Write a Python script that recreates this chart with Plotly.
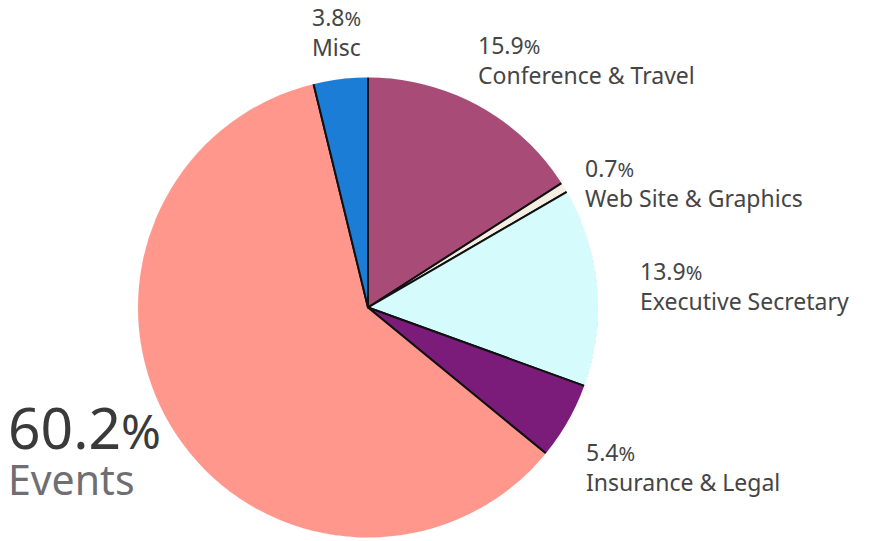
import plotly.graph_objects as go

# slices, clockwise from 12 o'clock
labels = ["Conference & Travel", "Web Site & Graphics", "Executive Secretary",
          "Insurance & Legal", "Events", "Misc"]
shares = [15.9, 0.7, 13.9, 5.4, 60.2, 3.8]
colors = ["#A84B77", "#F4EFE2", "#D6FBFD", "#7B1C7B", "#FF978D", "#1C7DD6"]

# label placement in pixels (top-left of text block)
label_pos = {
    "Conference & Travel": (476, 27),
    "Web Site & Graphics": (583, 150),
    "Executive Secretary": (638, 253),
    "Insurance & Legal": (584, 434),
    "Misc": (310, -1),
}

W, H = 869, 541
cx, cy, R = 368, 307.5, 231.5   # pie centre / radius in px
cyb = H - cy                    # centre measured from bottom

fig = go.Figure()
fig.add_trace(go.Pie(
    labels=labels,
    values=shares,
    sort=False,
    direction="clockwise",
    rotation=0,
    textinfo="none",
    hoverinfo="label+percent",
    marker=dict(colors=colors, line=dict(color="#111111", width=2)),
    domain=dict(x=[(cx - R) / W, (cx + R) / W], y=[(cyb - R) / H, (cyb + R) / H]),
    showlegend=False,
))

# white ring hiding the outline on the outer arc (reference has none)
Ro = 233.5
fig.add_trace(go.Pie(
    values=[1],
    labels=["mask"],
    hole=(R - 1.5) / Ro,
    sort=False,
    textinfo="none",
    hoverinfo="skip",
    marker=dict(colors=["white"], line=dict(width=0)),
    domain=dict(x=[(cx - Ro) / W, (cx + Ro) / W], y=[max(0, (cyb - Ro) / H), (cyb + Ro) / H]),
    showlegend=False,
))

annotations = []
for lab, val in zip(labels, shares):
    if lab == "Events":
        continue
    px_, py_ = label_pos[lab]
    annotations.append(dict(
        x=px_ / W, y=1 - py_ / H, xref="paper", yref="paper",
        xanchor="left", yanchor="top", align="left", showarrow=False,
        text=f"{val}<span style='font-size:20px'>%</span><br>{lab}",
        font=dict(family="Noto Sans", size=23, color="#454545"),
    ))

ev = labels.index("Events")
annotations.append(dict(
    x=6 / W, y=1 - 386 / H, xref="paper", yref="paper",
    xanchor="left", yanchor="top", align="left", showarrow=False,
    text=(f"<span style='font-size:57px'>{shares[ev]}</span>"
          f"<span style='font-size:48px'>%</span><br>"
          f"<span style='font-size:41px;color:#6e6e73'>{labels[ev]}</span>"),
    font=dict(family="Noto Sans", size=35, color="#3a3a3a"),
))

fig.update_layout(
    width=W, height=H,
    margin=dict(l=0, r=0, t=0, b=0),
    paper_bgcolor="white",
    plot_bgcolor="white",
    annotations=annotations,
)

fig.write_html("out.html", config={"displayModeBar": False},
               post_script="document.body.style.margin='0';")
